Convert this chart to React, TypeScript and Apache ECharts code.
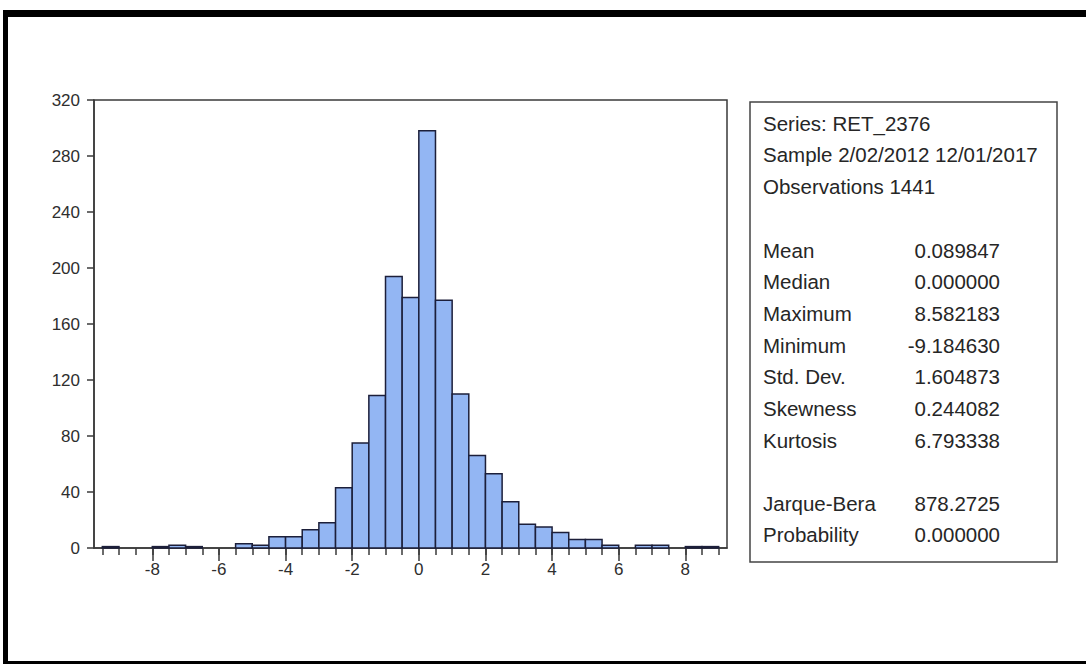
import React, { useEffect, useRef } from "react";
import * as echarts from "echarts";

// Histogram of daily returns, bins of width 0.5
const binStarts = [
  -9.5, -9, -8.5, -8, -7.5, -7, -6.5, -6, -5.5, -5, -4.5, -4, -3.5, -3, -2.5, -2, -1.5, -1, -0.5,
  0, 0.5, 1, 1.5, 2, 2.5, 3, 3.5, 4, 4.5, 5, 5.5, 6, 6.5, 7, 7.5, 8, 8.5,
];
const binWidth = 0.5;
const counts = [
  1, 0, 0, 1, 2, 1, 0, 0, 3, 2, 8, 8, 13, 18, 43, 75, 109, 194, 179,
  298, 177, 110, 66, 53, 33, 17, 15, 11, 6, 6, 2, 0, 2, 2, 0, 1, 1,
];

// Axis ticks and labels
const xMinorTicks = [...binStarts, 9];
const xLabelValues = [-8, -6, -4, -2, 0, 2, 4, 6, 8];
const yMax = 320;
const yStep = 40;

// Descriptive statistics panel
const headerLines = ["Series: RET_2376", "Sample 2/02/2012 12/01/2017", "Observations 1441"];
const statNames = ["Mean", "Median", "Maximum", "Minimum", "Std. Dev.", "Skewness", "Kurtosis"];
const statValues = ["0.089847", "0.000000", "8.582183", "-9.184630", "1.604873", "0.244082", "6.793338"];
const testNames = ["Jarque-Bera", "Probability"];
const testValues = ["878.2725", "0.000000"];

const FONT = "'Liberation Sans', Arial, sans-serif";
const TEXT = "#262626";
const AXIS = "#3a3a3a";

export default function App() {
  const ref = useRef<HTMLDivElement>(null);

  useEffect(() => {
    if (!ref.current) return;
    const chart = echarts.init(ref.current, undefined, { renderer: "svg" });

    const data = binStarts.map((s, i) => [s, s + binWidth, counts[i]]);

    const statFont = { fontFamily: FONT, fontSize: 20.5, fill: TEXT };
    const lineStep = 31.7;
    const panelTexts: any[] = [];
    headerLines.forEach((t, i) => {
      panelTexts.push({
        type: "text",
        x: 763,
        y: 123 + i * lineStep,
        style: { ...statFont, text: t, textVerticalAlign: "middle" },
      });
    });
    statNames.forEach((t, i) => {
      const y = 250 + i * lineStep;
      panelTexts.push({ type: "text", x: 763, y, style: { ...statFont, text: t, textVerticalAlign: "middle" } });
      panelTexts.push({
        type: "text",
        x: 1000,
        y,
        style: { ...statFont, text: statValues[i], textAlign: "right", textVerticalAlign: "middle" },
      });
    });
    testNames.forEach((t, i) => {
      const y = 503 + i * lineStep;
      panelTexts.push({ type: "text", x: 763, y, style: { ...statFont, text: t, textVerticalAlign: "middle" } });
      panelTexts.push({
        type: "text",
        x: 1000,
        y,
        style: { ...statFont, text: testValues[i], textAlign: "right", textVerticalAlign: "middle" },
      });
    });

    const labelStyle = { fontFamily: FONT, fontSize: 17, color: "#2e2e2e" };

    chart.setOption({
      animation: false,
      backgroundColor: "#ffffff",
      grid: {
        left: 94,
        right: 1086 - 727,
        top: 100,
        bottom: 664 - 548,
        show: true,
        borderColor: AXIS,
        borderWidth: 1.5,
        backgroundColor: "transparent",
      },
      xAxis: [
        {
          type: "value",
          position: "bottom",
          min: -9.75,
          max: 9.25,
          axisLine: { show: true, onZero: false, lineStyle: { color: AXIS, width: 1.5 } },
          axisTick: { show: true, customValues: xMinorTicks, length: 7, lineStyle: { color: AXIS, width: 1.5 } },
          axisLabel: { show: false },
          splitLine: { show: false },
        },
        {
          type: "value",
          position: "bottom",
          min: -9.75,
          max: 9.25,
          axisLine: { show: false, onZero: false },
          axisTick: { show: true, customValues: xLabelValues, length: 13, lineStyle: { color: AXIS, width: 1.5 } },
          axisLabel: { show: true, customValues: xLabelValues, margin: 13, ...labelStyle },
          splitLine: { show: false },
        },
      ],
      yAxis: {
        type: "value",
        min: 0,
        max: yMax,
        interval: yStep,
        axisLine: { show: true, onZero: false, lineStyle: { color: AXIS, width: 1.5 } },
        axisTick: { show: true, length: 7, lineStyle: { color: AXIS, width: 1.5 } },
        axisLabel: { margin: 14, ...labelStyle },
        splitLine: { show: false },
      },
      series: [
        {
          type: "custom",
          xAxisIndex: 0,
          yAxisIndex: 0,
          data,
          encode: { x: [0, 1], y: 2 },
          renderItem: (params: any, api: any) => {
            const lo = api.value(0);
            const hi = api.value(1);
            const n = api.value(2);
            if (!n) return null;
            const p0 = api.coord([lo, 0]);
            const p1 = api.coord([hi, n]);
            return {
              type: "rect",
              shape: { x: p0[0], y: p1[1], width: p1[0] - p0[0], height: p0[1] - p1[1] },
              style: { fill: "#93b6f3", stroke: "#1c1f3a", lineWidth: 1.5 },
            };
          },
        },
      ],
      graphic: [
        // page frame
        { type: "rect", shape: { x: 3, y: 10, width: 1083, height: 7 }, style: { fill: "#000" } },
        { type: "rect", shape: { x: 3, y: 10, width: 5, height: 654 }, style: { fill: "#000" } },
        { type: "rect", shape: { x: 3, y: 661, width: 1083, height: 3 }, style: { fill: "#000" } },
        // statistics box
        {
          type: "rect",
          shape: { x: 750, y: 102, width: 307, height: 460 },
          style: { fill: "none", stroke: "#444", lineWidth: 1.5 },
        },
        ...panelTexts,
      ],
    });

    return () => chart.dispose();
  }, []);

  return (
    <div
      ref={ref}
      style={{ position: "fixed", left: 0, top: 0, width: 1086, height: 664 }}
    />
  );
}
